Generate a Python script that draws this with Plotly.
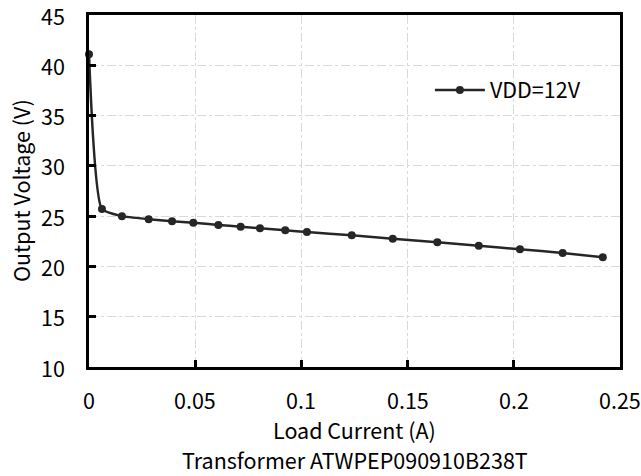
import plotly.graph_objects as go

load_current = [0.0, 0.0061, 0.0155, 0.0281, 0.0391, 0.0491, 0.0609, 0.0714, 0.0805,
                0.0924, 0.1026, 0.1237, 0.143, 0.164, 0.1835, 0.2029, 0.223, 0.2419]
output_voltage = [41.1, 25.7, 25.0, 24.7, 24.5, 24.35, 24.12, 23.95, 23.79,
                  23.59, 23.42, 23.09, 22.76, 22.4, 22.06, 21.7, 21.34, 20.91]
series_name = "VDD=12V"
x_ticks = [0, 0.05, 0.1, 0.15, 0.2, 0.25]
x_tick_text = ["0", "0.05", "0.1", "0.15", "0.2", "0.25"]
y_ticks = [10, 15, 20, 25, 30, 35, 40, 45]
y_tick_text = ["10", "15", "20", "25", "30", "35", "40", "45"]

FONT = "Noto Sans CJK SC, Source Sans Pro, sans-serif"
FS = 21.5

fig = go.Figure()
fig.add_trace(go.Scatter(
    x=load_current, y=output_voltage, name=series_name,
    mode="lines+markers",
    line=dict(color="#262626", width=2.5, shape="spline", smoothing=0.5),
    marker=dict(color="#262626", size=8),
    cliponaxis=False,
))

axis_common = dict(
    showline=True, linecolor="#000000", linewidth=3, mirror=True,
    showgrid=True, gridcolor="#d9d9d9", griddash="dashdot", gridwidth=1.2,
    ticks="inside", ticklen=7, tickwidth=2.5, tickcolor="#000000",
    zeroline=False, automargin=False, showticklabels=False,
)

fig.update_layout(
    width=641, height=476,
    margin=dict(l=89, r=21, t=15, b=109),
    paper_bgcolor="white", plot_bgcolor="white",
    font=dict(family=FONT, size=FS, color="black"),
    showlegend=True,
    legend=dict(x=0.642, y=0.787, xanchor="left", yanchor="middle", itemwidth=50,
                bgcolor="rgba(0,0,0,0)", font=dict(family=FONT, size=FS, color="black")),
    xaxis=dict(range=[0, 0.25], tickvals=x_ticks, **axis_common),
    yaxis=dict(range=[10, 45], tickvals=y_ticks, **axis_common),
)

for v, t in zip(x_ticks, x_tick_text):
    fig.add_annotation(text=t, x=v, xref="x", y=0, yref="paper", yshift=-32,
                       showarrow=False, xanchor="center", yanchor="middle",
                       font=dict(family=FONT, size=FS, color="black"))
for v, t in zip(y_ticks, y_tick_text):
    fig.add_annotation(text=t, x=0, xref="paper", y=v, yref="y", xshift=-22,
                       showarrow=False, xanchor="right", yanchor="middle",
                       font=dict(family=FONT, size=FS, color="black"))

fig.add_annotation(text="Output Voltage (V)", xref="paper", yref="paper", x=0, y=0.5,
                   xshift=-69, textangle=-90, showarrow=False, xanchor="center",
                   font=dict(family=FONT, size=FS, color="black"))
fig.add_annotation(text="Load Current (A)", xref="paper", yref="paper", x=0.5, y=0,
                   yshift=-62, showarrow=False, yanchor="middle",
                   font=dict(family=FONT, size=FS, color="black"))
fig.add_annotation(text="Transformer ATWPEP090910B238T", xref="paper", yref="paper", x=0.5, y=0,
                   yshift=-92, showarrow=False, yanchor="middle",
                   font=dict(family=FONT, size=FS, color="black"))

fig.write_html("out.html", config={"displayModeBar": False},
               post_script="document.body.style.margin='0';")
